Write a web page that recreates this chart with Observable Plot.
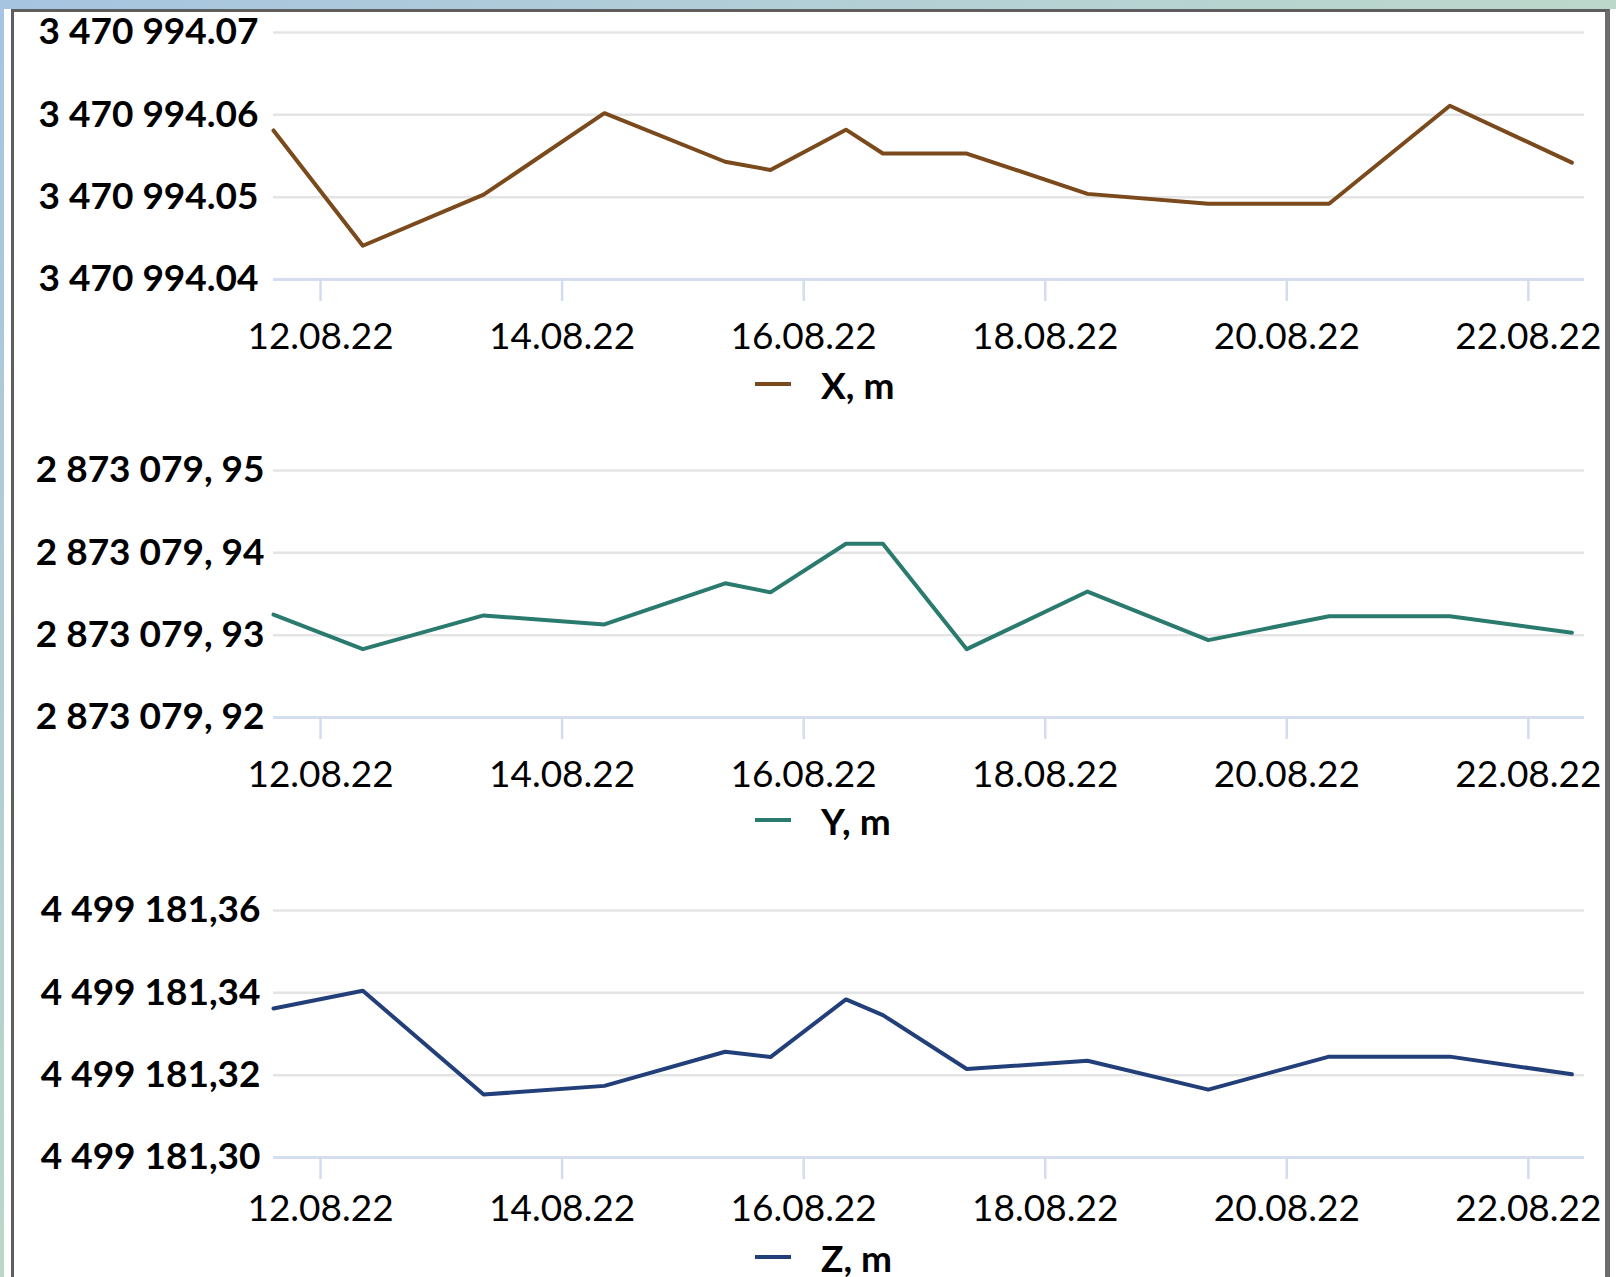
<!DOCTYPE html>
<html>
<head>
<meta charset="utf-8">
<script src="https://cdn.jsdelivr.net/npm/d3@7"></script>
<script src="https://cdn.jsdelivr.net/npm/@observablehq/plot@0.6"></script>
<style>
  html, body { margin: 0; padding: 0; }
  body { width: 1616px; height: 1277px; background: #fff; overflow: hidden; position: relative; font-family: Lato, "Open Sans", sans-serif; }
  .topband { position: absolute; left: 0; top: 0; width: 1616px; height: 9px; background: linear-gradient(to right, #a6c4e0, #b4d0d6 55%, #bcd8cb); z-index: 5; }
  .leftband { position: absolute; left: 0; top: 0; width: 4px; height: 1277px; background: linear-gradient(#a6c4e0, #bcd6c8); z-index: 5; }
  .frame { position: absolute; left: 11px; top: 9px; width: 1599px; height: 1300px; box-sizing: border-box;
           border-left: 3px solid #5e5e5e; border-top: 3px solid #5e5e5e; border-right: 5px solid #6c6c6c; z-index: 4; pointer-events: none; }
  .panel { position: absolute; left: 0; width: 1616px; height: 440px; }
  .legend { position: absolute; left: 755px; height: 48px; display: flex; align-items: center;
            font-family: Lato, "Open Sans", sans-serif; font-weight: bold; font-size: 37px; color: #000; }
  .legend .sw { display: inline-block; width: 36px; height: 4px; margin-right: 30px; }
</style>
</head>
<body>
<div class="topband"></div>
<div class="leftband"></div>
<div class="frame"></div>
<div id="charts"></div>
<script>
// ---- data ----
const dates = [
  "2022-08-11T15:15Z", "2022-08-12T09:00Z", "2022-08-13T09:00Z", "2022-08-14T09:00Z",
  "2022-08-15T09:00Z", "2022-08-15T18:00Z", "2022-08-16T09:00Z", "2022-08-16T16:20Z",
  "2022-08-17T09:00Z", "2022-08-18T09:00Z", "2022-08-19T09:00Z", "2022-08-20T09:00Z",
  "2022-08-21T09:00Z", "2022-08-22T09:15Z"
];
const xSeries = [3470994.0581, 3470994.0441, 3470994.0503, 3470994.0602, 3470994.0543, 3470994.0533, 3470994.0582,
                 3470994.0553, 3470994.0553, 3470994.0504, 3470994.0492, 3470994.0492, 3470994.0611, 3470994.0542];
const ySeries = [2873079.9325, 2873079.9283, 2873079.9324, 2873079.9313, 2873079.9363, 2873079.9352, 2873079.9411,
                 2873079.9411, 2873079.9283, 2873079.9353, 2873079.9294, 2873079.9323, 2873079.9323, 2873079.9303];
const zSeries = [4499181.3362, 4499181.3405, 4499181.3153, 4499181.3174, 4499181.3257, 4499181.3244, 4499181.3384,
                 4499181.3346, 4499181.3215, 4499181.3235, 4499181.3165, 4499181.3245, 4499181.3245, 4499181.3202];

const dateTicks = ["2022-08-12", "2022-08-14", "2022-08-16", "2022-08-18", "2022-08-20", "2022-08-22"];
const dateTickLabels = ["12.08.22", "14.08.22", "16.08.22", "18.08.22", "20.08.22", "22.08.22"];
const xDomain = ["2022-08-11T15:15Z", "2022-08-22T11:45Z"];

const xTicks = [3470994.04, 3470994.05, 3470994.06, 3470994.07];
const xTickLabels = ["3 470 994.04", "3 470 994.05", "3 470 994.06", "3 470 994.07"];
const yTicks = [2873079.92, 2873079.93, 2873079.94, 2873079.95];
const yTickLabels = ["2 873 079, 92", "2 873 079, 93", "2 873 079, 94", "2 873 079, 95"];
const zTicks = [4499181.30, 4499181.32, 4499181.34, 4499181.36];
const zTickLabels = ["4 499 181,30", "4 499 181,32", "4 499 181,34", "4 499 181,36"];

const seriesNames = ["X, m", "Y, m", "Z, m"];
const seriesColors = ["#7b4a1c", "#2a7a6e", "#223f7a"];

// ---- drawing ----
const dTicks = dateTicks.map(s => new Date(s + "T00:00Z"));
const dLabel = new Map(dTicks.map((d, i) => [+d, dateTickLabels[i]]));

const panels = [
  {values: xSeries, ticks: xTicks, labels: xTickLabels, top: 0, pad: 15, xpad: 21, legendTop: 360},
  {values: ySeries, ticks: yTicks, labels: yTickLabels, top: 438, pad: 9, xpad: 21, legendTop: 358},
  {values: zSeries, ticks: zTicks, labels: zTickLabels, top: 878, pad: 13, xpad: 15, legendTop: 355}
];

const host = document.getElementById("charts");
panels.forEach((p, k) => {
  const data = dates.map((d, i) => ({date: new Date(d), value: p.values[i]}));
  const lbl = new Map(p.ticks.map((v, i) => [v, p.labels[i]]));
  const chart = Plot.plot({
    width: 1616,
    height: 360,
    marginLeft: 273,
    marginRight: 32,
    marginTop: 32,
    marginBottom: 81,
    style: {fontFamily: "Lato, 'Open Sans', sans-serif", fontSize: "37px", background: "transparent", color: "#000", overflow: "visible"},
    x: {type: "utc", domain: xDomain.map(s => new Date(s)), label: null},
    y: {domain: [p.ticks[0], p.ticks[p.ticks.length - 1]], label: null},
    marks: [
      Plot.gridY(p.ticks.slice(1), {stroke: "#e4e4e4", strokeOpacity: 1, strokeWidth: 2.5}),
      Plot.ruleY([p.ticks[0]], {stroke: "#d6ddf0", strokeWidth: 3}),
      Plot.axisX(dTicks, {
        tickFormat: d => dLabel.get(+d), tickSize: 22, tickPadding: p.xpad,
        stroke: "#d3dcef", strokeWidth: 2.5, color: "#000", dx: 3, label: null
      }),
      Plot.axisY(p.ticks, {
        anchor: "left", tickFormat: v => lbl.get(v), tickSize: 0, tickPadding: p.pad,
        fontWeight: "bold", color: "#000", label: null
      }),
      Plot.line(data, {x: "date", y: "value", stroke: seriesColors[k], strokeWidth: 4, strokeLinejoin: "round"})
    ]
  });
  const div = document.createElement("div");
  div.className = "panel";
  div.style.top = p.top + "px";
  div.appendChild(chart);
  const leg = document.createElement("div");
  leg.className = "legend";
  leg.style.top = p.legendTop + "px";
  const sw = document.createElement("span");
  sw.className = "sw";
  sw.style.background = seriesColors[k];
  leg.appendChild(sw);
  leg.appendChild(document.createTextNode(seriesNames[k]));
  div.appendChild(leg);
  host.appendChild(div);
});
</script>
</body>
</html>
